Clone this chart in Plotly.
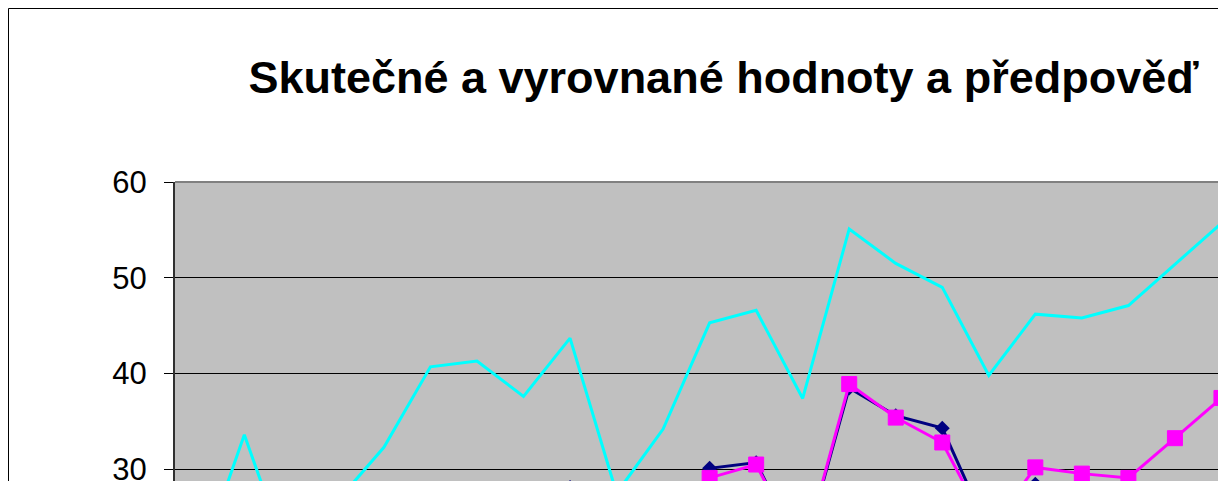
import plotly.graph_objects as go

title_text = "Skutečné a vyrovnané hodnoty a předpověď"
periods = list(range(24))

# cyan series (upper line, no markers)
upper = [19.7, 33.6, 19.9, 26.7, 32.3, 40.7, 41.3, 37.6, 43.7, 27.5,
         34.2, 45.3, 46.6, 37.4, 55.1, 51.5, 49.0, 39.8, 46.2, 45.8,
         47.1, 51.4, 55.7, None]
# dark blue series (actual values, diamonds)
actual = [None, None, None, None, None, None, None, None, 28.1, 22.0,
          18.0, 30.1, 30.7, 21.0, 38.5, 35.6, 34.3, 23.5, 28.45, 27.0,
          None, None, None, None]
# magenta series (fitted values and forecast, squares)
fitted = [None, None, None, None, None, None, None, None, 26.0, 22.0,
          18.0, 29.1, 30.5, 21.1, 38.9, 35.4, 32.8, 23.6, 30.2, 29.55,
          29.1, 33.25, 37.45, None]

y_ticks = [20, 30, 40, 50, 60]
y_labels = ["20", "30", "40", "50", "60"]

# The page body margin is removed, so figure pixels == screen pixels.
# The chart is larger than the window; the window shows its top-left part.
W, H = 1280, 540
L, T = 175, 182
pw, ph = W - L, H - T
STEP = 46.53      # px per category
UNIT = 9.577      # px per y unit
BORDER = 8.5      # chart-area border position (px)

fig = go.Figure()
fig.add_trace(go.Scatter(x=periods, y=upper, mode="lines",
                         line=dict(color="#00FFFF", width=3)))
fig.add_trace(go.Scatter(x=periods, y=actual, mode="lines+markers",
                         line=dict(color="#000080", width=3),
                         marker=dict(symbol="diamond", size=11.5, color="#000080")))
fig.add_trace(go.Scatter(x=periods, y=fitted, mode="lines+markers",
                         line=dict(color="#FF00FF", width=3),
                         marker=dict(symbol="square", size=15, color="#FF00FF",
                                     line=dict(color="#FF00FF", width=1))))

# chart area border (top and left edges visible)
bx = (BORDER - L) / pw
by = (H - BORDER) / ph
shapes = [
    dict(type="line", xref="paper", yref="paper", x0=bx, x1=1.0, y0=by, y1=by,
         line=dict(color="black", width=1)),
    dict(type="line", xref="paper", yref="paper", x0=bx, x1=bx, y0=-0.3, y1=by,
         line=dict(color="black", width=1)),
    dict(type="line", xref="paper", yref="paper", x0=0, x1=1.0, y0=1, y1=1,
         line=dict(color="#808080", width=2)),
]

fig.update_layout(
    width=W, height=H,
    margin=dict(l=L, r=0, t=T, b=0, pad=0),
    paper_bgcolor="white",
    plot_bgcolor="#C0C0C0",
    showlegend=False,
    shapes=shapes,
    title=dict(text="<b>" + title_text + "</b>", xref="container", yref="container",
               x=723.5 / W, xanchor="center", y=1 - 77 / H, yanchor="middle",
               font=dict(family="Liberation Sans, Arial, sans-serif", size=45, color="black")),
    xaxis=dict(range=[-0.49, -0.49 + pw / STEP], showgrid=False, zeroline=False,
               showticklabels=False, ticks="", showline=False),
    yaxis=dict(range=[60 - ph / UNIT, 60], tickvals=y_ticks, ticktext=y_labels,
               showgrid=True, gridcolor="black", gridwidth=1, zeroline=False,
               showline=True, linecolor="#303030", linewidth=2,
               ticks="outside", ticklen=9, tickcolor="black", tickwidth=1,
               ticklabelstandoff=11, ticklabeloverflow="allow",
               tickfont=dict(family="Liberation Sans, Arial, sans-serif", size=31, color="black")),
)

fig.write_html(
    "out.html",
    config={"displayModeBar": False},
    post_script="document.documentElement.style.overflow='hidden';"
                "document.body.style.margin='0';",
)
